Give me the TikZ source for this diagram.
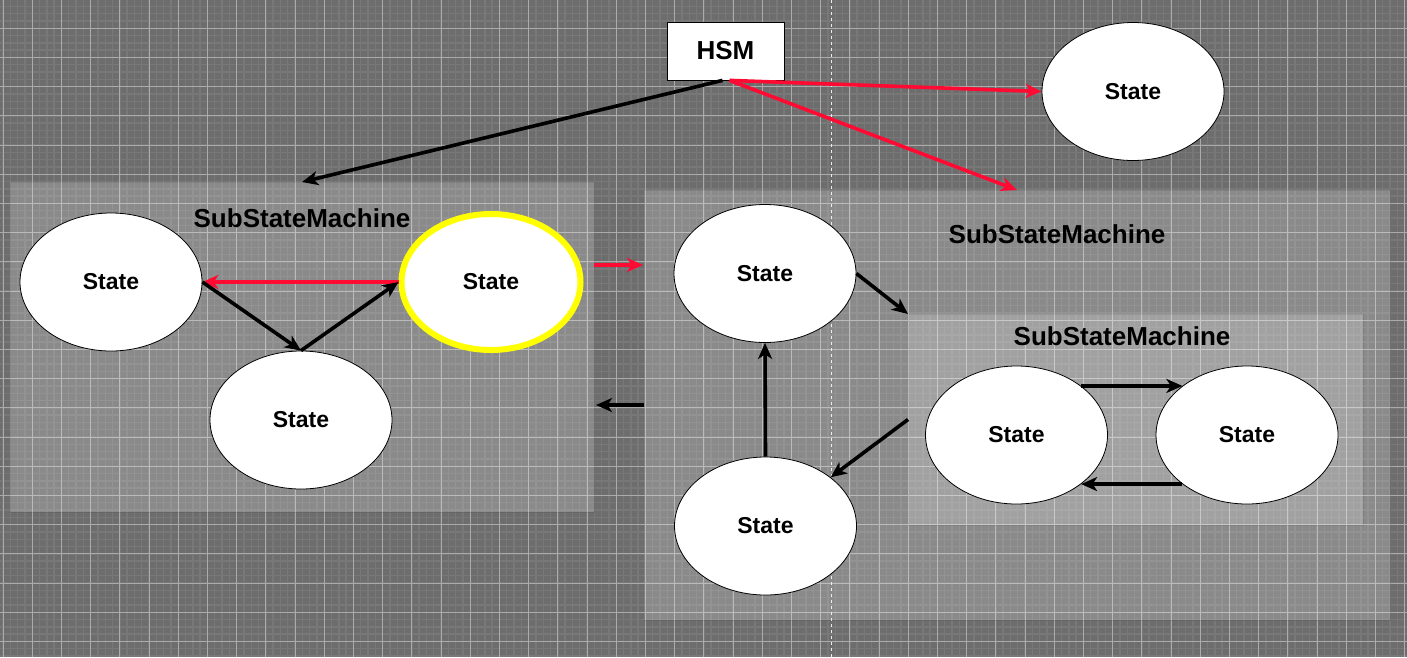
\documentclass[tikz,border=0pt]{standalone}
\usepackage{fontspec}
\setmainfont{Liberation Sans}
\usetikzlibrary{shapes.geometric,arrows.meta,calc}
\definecolor{bgc}{HTML}{6D6D6D}
\definecolor{gminor}{HTML}{787878}
\definecolor{gmajor}{HTML}{ABABAB}
\definecolor{redarrow}{HTML}{FF0A32}
\definecolor{hl}{HTML}{FFFF00}
\begin{document}
\begin{tikzpicture}[x=1pt,y=-1pt,
  stnode/.style={ellipse, draw=black, line width=0.8pt, fill=white, minimum width=182pt, minimum height=138pt, inner sep=0pt, font=\fontsize{23}{27}\selectfont\bfseries},
  hlnode/.style={stnode, draw=hl, line width=6pt, minimum width=179pt, minimum height=136pt},
  container/.style={rectangle, fill=white, fill opacity=0.2, draw=black, draw opacity=0.08, line width=1pt, inner sep=0pt, outer sep=0pt, anchor=north west},
  titlenode/.style={font=\fontsize{26}{30}\selectfont\bfseries, inner sep=0pt},
  boxnode/.style={rectangle, draw=black, fill=white, line width=0.8pt, minimum width=117pt, minimum height=58pt, font=\fontsize{26}{30}\selectfont\bfseries},
  conn/.style={line width=3.6pt, draw=black, -{Stealth[length=16pt,width=14pt,inset=4.5pt]}},
  redconn/.style={conn, draw=redarrow, color=redarrow},
  gridminor/.style={gminor, line width=1.4pt},
  gridmajor/.style={gmajor, line width=1pt},
]
\useasboundingbox (0,0) rectangle (1407,657);
% background grid
\fill[bgc] (0,0) rectangle (1407,657);
\foreach \i in {0,...,194} \draw[gridminor] ({-4.3+7.3*\i},0) -- ++(0,657);
\foreach \j in {0,...,91} \draw[gridminor] (0,{-1+7.3*\j}) -- ++(1407,0);
\foreach \k in {0,...,48} \draw[gridmajor] ({3+29.2*\k},0) -- ++(0,657);
\foreach \k in {1,...,23} \draw[gridmajor] (0,{-1+29.2*\k}) -- ++(1407,0);
\draw[white!85!gray, line width=1pt, dash pattern=on 3pt off 3pt] (831,0) -- (831,657);

% containers
\node[container, minimum width=584pt, minimum height=330pt] (LC) at (10,182) {};
\node[container, minimum width=746pt, minimum height=430pt] (RC) at (644,190) {};
\node[container, minimum width=455pt, minimum height=211pt] (IC) at (908,314) {};
\node[titlenode] (LCt) at (302,218) {SubStateMachine};
\node[titlenode] (RCt) at (1057,234) {SubStateMachine};
\node[titlenode] (ICt) at (1122,336) {SubStateMachine};

% nodes
\node[boxnode] (HSM) at (725.5,51) {HSM};
\node[stnode] (T) at (1133,91.5) {State};
\node[stnode] (L1) at (111,282) {State};
\node[stnode] (L2) at (301,420) {State};
\node[hlnode] (L3) at (491,282) {State};
\node[stnode] (R1) at (765,273.5) {State};
\node[stnode] (R2) at (765.5,526) {State};
\node[stnode] (I1) at (1016.5,435) {State};
\node[stnode] (I2) at (1247,435) {State};

% connectors
\draw[conn] ([xshift=-3pt]HSM.south) -- (LC.north);
\draw[redconn] ([xshift=4pt]HSM.south) -- (T.west);
\draw[redconn] ([xshift=4pt]HSM.south) -- (RC.north);
\draw[redconn] (L3.west) -- (L1.east);
\draw[conn] (L1.east) -- (L2.north);
\draw[conn] (L2.north) -- (L3.west);
\draw[redconn] (LC.east |- 0,265) -- ([xshift=-1pt]RC.west |- 0,265);
\draw[conn] (RC.west) -- ([xshift=2pt]RC.west -| LC.east);
\draw[conn] (R1.east) -- (IC.north west);
\draw[conn] (IC.west) -- (R2);
\draw[conn] (R2.north) -- (R1.south);
\draw[conn] (I1.north east) -- (I2.north west);
\draw[conn] (I2.south west) -- (I1.south east);
\end{tikzpicture}
\end{document}
